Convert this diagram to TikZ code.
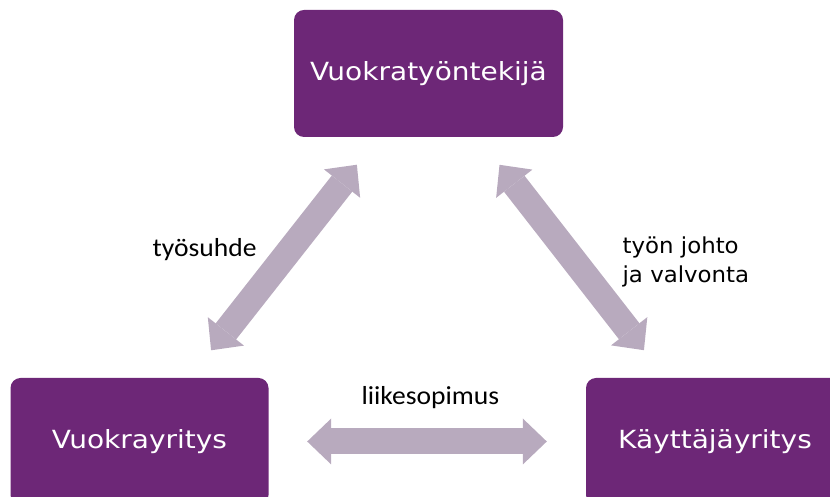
\documentclass[tikz,border=0pt]{standalone}
\usepackage{fontspec}
\setmainfont{DejaVu Sans}
\newfontfamily\boxfont[FakeStretch=1.12]{DejaVu Sans}
\newfontfamily\linkfont[FakeStretch=1.06]{Carlito}
\newfontfamily\notefont[FakeStretch=1.04]{DejaVu Sans}
\usepackage{xcolor}
\definecolor{VTpurple}{HTML}{6D2777}
\definecolor{VTgray}{HTML}{B8AABE}
\usepackage{tikz}
\usetikzlibrary{arrows.meta, positioning}

\tikzset{
  party/.style={fill=VTpurple, rounded corners=10pt, text=white,
    minimum height=127pt, inner sep=0pt,
    font=\boxfont\fontsize{25}{29}\selectfont},
  link/.style={line width=26pt, color=VTgray,
    {Triangle[width=46pt,length=24pt,line width=0pt]}-{Triangle[width=46pt,length=24pt,line width=0pt]},
    shorten <=35pt, shorten >=35pt}
}

\begin{document}
\begin{tikzpicture}[x=1pt, y=1pt, node distance=368pt]
\clip (0,0) rectangle (830,497);

\node[party, minimum width=269pt] (vt) at (428.5,423.5) {Vuokratyöntekijä};

\node[party, minimum width=258pt,
  below of=vt, xshift=-289pt] (vy) {Vuokrayritys};

\node[party, minimum width=258pt,
  below of=vt, xshift=286.5pt] (ky) {Käyttäjäyritys};

\draw[link]
  (vy) -- node[pos=0.531, left=17pt, color=black,
    font=\linkfont\fontsize{26}{30}\selectfont] (suhde) {työsuhde} (vt);
\draw[link]
  (vt) -- node[pos=0.519, right=31pt, color=black, align=left,
    font=\notefont\fontsize{22}{29}\selectfont] (johto) {työn johto\\ja valvonta} (ky);
\draw[link, shorten <=38.5pt, shorten >=39pt]
  (vy) -- node[pos=0.51, above=16pt, color=black,
    font=\linkfont\fontsize{26}{30}\selectfont] (sopimus) {liikesopimus} (ky);
\end{tikzpicture}
\end{document}
